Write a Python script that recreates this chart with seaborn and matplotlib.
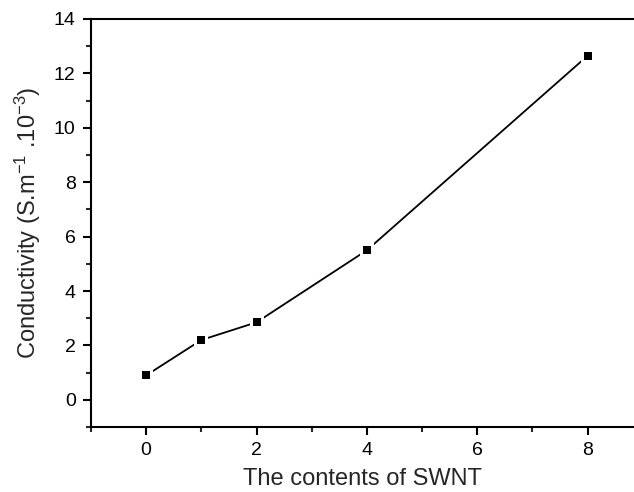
import matplotlib
matplotlib.use("Agg")
import matplotlib.pyplot as plt
import seaborn as sns
import pandas as pd
from matplotlib.ticker import MultipleLocator

swnt = [0, 1, 2, 4, 8]
conductivity = [0.9, 2.2, 2.85, 5.5, 12.65]
x_ticks = [0, 2, 4, 6, 8]
y_ticks = [0, 2, 4, 6, 8, 10, 12, 14]

df = pd.DataFrame({"swnt": swnt, "cond": conductivity})

sns.set_theme(style="ticks")
plt.rcParams["font.family"] = ["Liberation Sans", "DejaVu Sans"]
plt.rcParams["mathtext.fontset"] = "custom"
plt.rcParams["mathtext.rm"] = "Liberation Sans"
plt.rcParams["mathtext.it"] = "Liberation Sans:italic"

fig = plt.figure(figsize=(6.34, 4.92), dpi=100)
ax = fig.add_axes([0.1435, 0.132, 0.8565, 0.8294])

sns.lineplot(data=df, x="swnt", y="cond", ax=ax, color="black", lw=1.3,
             zorder=2)
# white halo to create the small gaps around markers
sns.scatterplot(data=df, x="swnt", y="cond", ax=ax, color="white",
                marker="s", s=110, edgecolor="white", linewidth=0, zorder=2.5)
sns.scatterplot(data=df, x="swnt", y="cond", ax=ax, color="black",
                marker="s", s=36, edgecolor="black", linewidth=0, zorder=3)

ax.set_xlim(-1, 8.84)
ax.set_ylim(-1, 14)
ax.set_xticks(x_ticks)
ax.set_yticks(y_ticks)
ax.xaxis.set_minor_locator(MultipleLocator(1))
ax.yaxis.set_minor_locator(MultipleLocator(1))
ax.tick_params(which="major", direction="out", length=6, width=1.5,
               labelsize=14, colors="black", pad=5)
ax.tick_params(which="minor", direction="out", length=3.5, width=1.5)
for s in ["left", "bottom", "top"]:
    ax.spines[s].set_linewidth(1.5)
    ax.spines[s].set_color("black")
ax.spines["right"].set_visible(False)

ax.set_xlabel("The contents of SWNT", fontsize=17, labelpad=6)
ax.set_ylabel("Conductivity (S.m$^{-1}$ .10$^{-3}$)", fontsize=17, labelpad=8)

fig.savefig("out.png", dpi=100)
